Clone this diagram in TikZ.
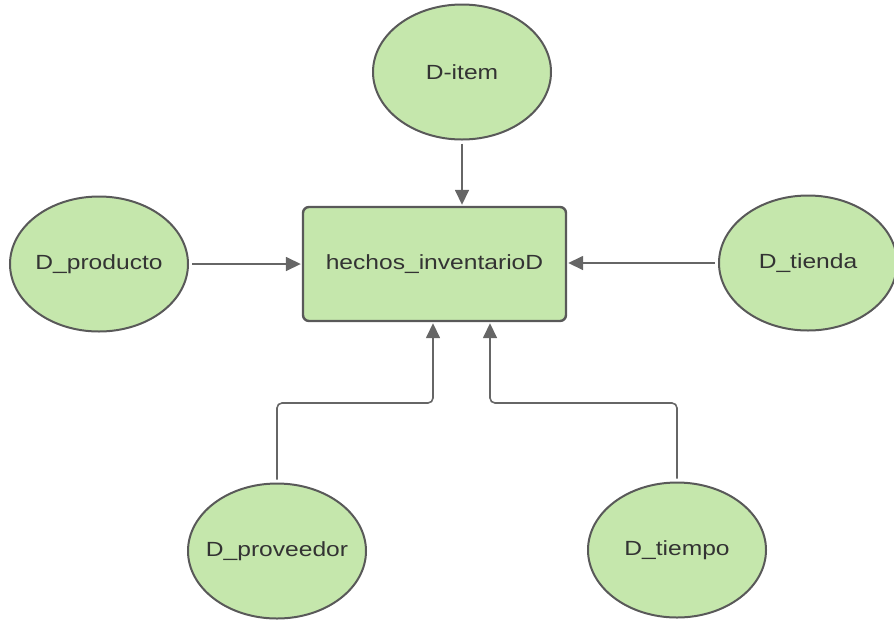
\documentclass[tikz,border=0pt]{standalone}
\usepackage{fontspec}
\setmainfont[FakeStretch=1.2]{Liberation Sans}
\usetikzlibrary{arrows.meta,shapes.geometric}

\definecolor{dimfill}{HTML}{C5E7AC}
\definecolor{dimline}{HTML}{595959}
\definecolor{connline}{HTML}{666666}
\definecolor{labeltext}{HTML}{333333}

\begin{document}
\begin{tikzpicture}[x=1pt,y=-1pt,font=\fontsize{20.5}{24}\selectfont,text=labeltext]
    \tikzstyle{dimension}=[ellipse,draw=dimline,fill=dimfill,line width=2pt,minimum width=178pt,minimum height=135pt,inner xsep=-14pt,inner ysep=0pt]
    \tikzstyle{fact}=[rectangle,rounded corners=6pt,draw=dimline,fill=dimfill,line width=2.4pt,minimum width=263pt,minimum height=114pt,inner sep=0pt]
    \tikzstyle{conn}=[draw=connline,line width=1.6pt,-{Triangle[length=15pt,width=14pt]},shorten >=1pt,shorten <=3pt,rounded corners=5pt]
    \useasboundingbox (0,0) rectangle (894,622);
    % fact table in the middle
    \node[fact] (hechos) at (434.5,264) {hechos\_inventarioD};
    % dimension tables round it
    \node[dimension] (item) at (462,72) {D-item};
    \node[dimension] (producto) at (99,264) {D\_producto};
    \node[dimension] (tienda) at (808,263) {D\_tienda};
    \node[dimension] (proveedor) at (277,551) {D\_proveedor};
    \node[dimension] (tiempo) at (677,550) {D\_tiempo};
    % bends of the lower connectors
    \coordinate (jprov) at (433,403);
    \coordinate (jtiem) at (490,403);
    % connectors
    \draw[conn] (item.south) -- (hechos.north -| item.south);
    \draw[conn] (producto.east) -- (hechos.west |- producto.east);
    \draw[conn] (tienda.west) -- (hechos.east |- tienda.west);
    \draw[conn] (proveedor.north) |- (jprov) -- (jprov |- hechos.south);
    \draw[conn] (tiempo.north) |- (jtiem) -- (jtiem |- hechos.south);
\end{tikzpicture}
\end{document}
